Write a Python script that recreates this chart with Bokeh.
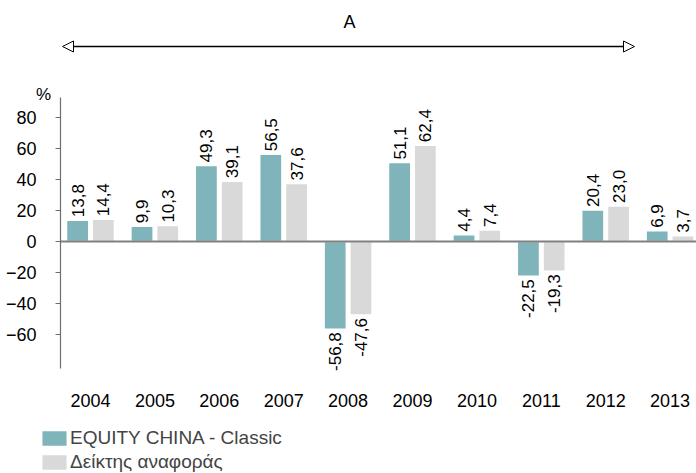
import math
from bokeh.plotting import figure
from bokeh.models import (Range1d, FixedTicker, Label, Arrow, NormalHead,
                          Legend, LegendItem, ColumnDataSource, LinearAxis)
from bokeh.core.properties import value
from bokeh.embed import file_html
from bokeh.resources import INLINE

years = ["2004", "2005", "2006", "2007", "2008", "2009", "2010", "2011", "2012", "2013"]
fund = [13.8, 9.9, 49.3, 56.5, -56.8, 51.1, 4.4, -22.5, 20.4, 6.9]
index = [14.4, 10.3, 39.1, 37.6, -47.6, 62.4, 7.4, -19.3, 23.0, 3.7]
series_names = ["EQUITY CHINA - Classic", "Δείκτης αναφοράς"]
y_ticks = [-60, -40, -20, 0, 20, 40, 60, 80]

TEAL = "#7fb4ba"
GREY = "#d9d9d9"
FONT = "Liberation Sans"

W, H = 696, 473
px_per_cat = 64.4
px_per_unit = 1.544
first_cat_px = 90      # canvas x of first category centre
zero_px = 241          # canvas y of value 0


def dx(px):
    return (px - first_cat_px) / px_per_cat


def dy(py):
    return (zero_px - py) / px_per_unit


p = figure(width=W, height=H, output_backend="svg", toolbar_location=None,
           x_range=Range1d(dx(0), dx(W)), y_range=Range1d(dy(H), dy(0)),
           x_axis_type=None, y_axis_type=None,
           min_border_left=0, min_border_right=0, min_border_top=0, min_border_bottom=0)
p.outline_line_color = None
p.grid.visible = False

xs = list(range(len(years)))
off = 0.2
bw = 0.345

src = ColumnDataSource(dict(
    xf=[x - off for x in xs], xi=[x + off for x in xs], fund=fund, index=index))
r1 = p.vbar(x="xf", top="fund", width=bw, bottom=0, source=src,
            fill_color=TEAL, line_color="white", line_width=1.5)
r2 = p.vbar(x="xi", top="index", width=bw, bottom=0, source=src,
            fill_color=GREY, line_color="white", line_width=1.5)


def fmt(v):
    return f"{v:.1f}".replace(".", ",")


for xoff, vals in ((-off, fund), (off, index)):
    pos = [(x + xoff, v) for x, v in zip(xs, vals) if v >= 0]
    neg = [(x + xoff, v) for x, v in zip(xs, vals) if v < 0]
    if pos:
        p.text(x=[a for a, _ in pos], y=[b for _, b in pos], text=[fmt(b) for _, b in pos],
               angle=math.pi / 2, text_align="left", text_baseline="middle",
               y_offset=-3, text_font=value(FONT), text_font_size="17px", text_color="black")
    if neg:
        p.text(x=[a for a, _ in neg], y=[b for _, b in neg], text=[fmt(b) for _, b in neg],
               angle=math.pi / 2, text_align="right", text_baseline="middle",
               y_offset=3, text_font=value(FONT), text_font_size="17px", text_color="black")

axis_x = dx(60)
# zero line, from the y axis to the right edge
p.segment(x0=[axis_x], y0=[0], x1=[dx(W)], y1=[0], line_color="#808080", line_width=2)
# y axis line (partial height)
p.segment(x0=[axis_x], y0=[dy(368)], x1=[axis_x], y1=[dy(97)], line_color="#6e6e6e", line_width=1.2)

yax = LinearAxis(fixed_location=axis_x, ticker=FixedTicker(ticks=y_ticks))
yax.axis_line_color = None
yax.major_tick_in = 0
yax.major_tick_out = 5
yax.major_tick_line_color = "#6e6e6e"
yax.minor_tick_line_color = None
yax.major_label_standoff = 19
yax.major_label_text_font = FONT
yax.major_label_text_font_size = "18px"
yax.major_label_text_color = "black"
p.add_layout(yax, "left")

xax = LinearAxis(fixed_location=dy(380), ticker=FixedTicker(ticks=xs))
xax.major_label_overrides = {x: y for x, y in zip(xs, years)}
xax.axis_line_color = None
xax.major_tick_line_color = None
xax.minor_tick_line_color = None
xax.major_tick_in = 0
xax.major_tick_out = 0
xax.major_label_standoff = 13
xax.major_label_text_font = FONT
xax.major_label_text_font_size = "18px"
xax.major_label_text_color = "black"
p.add_layout(xax, "below")

# % label
p.add_layout(Label(x=dx(43), y=dy(94), text="%",
                   text_align="center", text_baseline="middle", text_font=FONT,
                   text_font_size="17px", text_color="black"))

# period arrow
ay = dy(46)
p.add_layout(Arrow(x_start=dx(62), y_start=ay, x_end=dx(634), y_end=ay,
                   line_color="black", line_width=1.5,
                   start=NormalHead(size=11, fill_color="white", line_color="black", line_width=1),
                   end=NormalHead(size=11, fill_color="white", line_color="black", line_width=1)))
p.add_layout(Label(x=dx(349), y=dy(21), text="A",
                   text_align="center", text_baseline="middle", text_font=FONT,
                   text_font_size="18px", text_color="black"))

legend = Legend(items=[LegendItem(label=series_names[0], renderers=[r1]),
                       LegendItem(label=series_names[1], renderers=[r2])],
                location=(38, H - 431 - 42),
                orientation="vertical", glyph_width=32, glyph_height=20,
                label_standoff=0, spacing=2, padding=0, margin=0,
                label_text_font=FONT, label_text_font_size="19px",
                label_height=20, border_line_color=None, background_fill_alpha=0)
p.add_layout(legend, "center")

open("out.html", "w").write(file_html(p, INLINE))
